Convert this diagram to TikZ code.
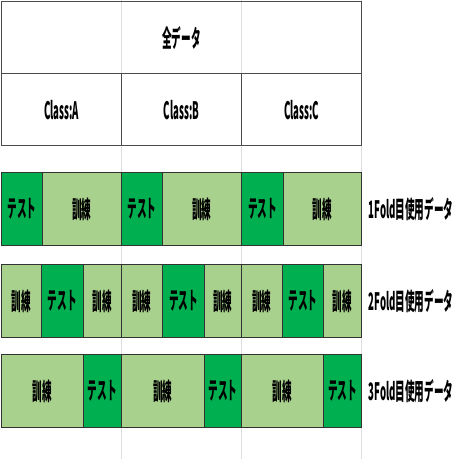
\documentclass[tikz,border=0pt]{standalone}
\usepackage{fontspec}
\newfontfamily\jp{Noto Sans CJK JP}[FakeStretch=0.4]
\definecolor{dg}{RGB}{0,176,80}
\definecolor{lg}{RGB}{169,209,142}
\definecolor{gridc}{RGB}{222,222,222}
\begin{document}
\begin{tikzpicture}[x=1pt,y=-1pt,
  txt/.style={font=\jp\bfseries\fontsize{24}{24}\selectfont},
  hdr/.style={draw=black!70, line width=1.2pt, anchor=north west, inner sep=0pt, minimum height=72pt, txt},
  cell/.style={draw=black!80, line width=0.8pt, anchor=north west, inner sep=0pt, minimum height=73pt, txt},
  test/.style={cell, fill=dg},
  train/.style={cell, fill=lg},
  lbl/.style={txt, inner sep=0pt},
  gridline/.style={draw=gridc, line width=0.6pt}]
\useasboundingbox (0,0) rectangle (459,459);
% background grid
\draw[gridline] (121,0) -- (121,459);
\draw[gridline] (241,0) -- (241,459);
\draw[gridline] (361,0) -- (361,459);
% header
\node[hdr, minimum width=360pt] (all) at (1,1) {全データ};
\node[hdr, minimum width=120pt] (ca) at (1,73) {Class:A};
\node[hdr, minimum width=120pt] (cb) at (121,73) {Class:B};
\node[hdr, minimum width=120pt] (cc) at (241,73) {Class:C};
% fold 1
\node[test, minimum width=41pt] (r1a) at (1,172) {テスト};
\node[train, minimum width=79pt] (r1b) at (42,172) {訓練};
\node[test, minimum width=41pt] (r1c) at (121,172) {テスト};
\node[train, minimum width=79pt] (r1d) at (162,172) {訓練};
\node[test, minimum width=42pt] (r1e) at (241,172) {テスト};
\node[train, minimum width=78pt] (r1f) at (283,172) {訓練};
% fold 2
\node[train, minimum width=40pt] (r2a) at (1,264) {訓練};
\node[test, minimum width=42pt] (r2b) at (41,264) {テスト};
\node[train, minimum width=38pt] (r2c) at (83,264) {訓練};
\node[train, minimum width=41pt] (r2d) at (121,264) {訓練};
\node[test, minimum width=42pt] (r2e) at (162,264) {テスト};
\node[train, minimum width=37pt] (r2f) at (204,264) {訓練};
\node[train, minimum width=41pt] (r2g) at (241,264) {訓練};
\node[test, minimum width=41pt] (r2h) at (282,264) {テスト};
\node[train, minimum width=38pt] (r2i) at (323,264) {訓練};
% fold 3
\node[train, minimum width=82pt] (r3a) at (1,354) {訓練};
\node[test, minimum width=38pt] (r3b) at (83,354) {テスト};
\node[train, minimum width=83pt] (r3c) at (121,354) {訓練};
\node[test, minimum width=37pt] (r3d) at (204,354) {テスト};
\node[train, minimum width=82pt] (r3e) at (241,354) {訓練};
\node[test, minimum width=38pt] (r3f) at (323,354) {テスト};
% labels
\node[lbl] (l1) at (411,209) {1Fold目使用データ};
\node[lbl] (l2) at (411,301) {2Fold目使用データ};
\node[lbl] (l3) at (411,391) {3Fold目使用データ};
\end{tikzpicture}
\end{document}
